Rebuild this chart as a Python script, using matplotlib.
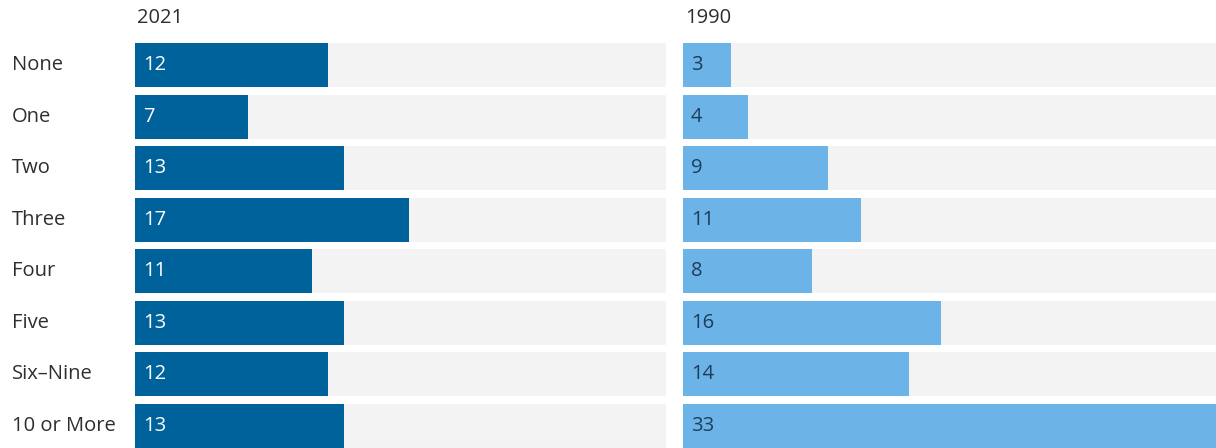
import matplotlib
matplotlib.use("Agg")
import matplotlib.pyplot as plt
import numpy as np

plt.rcParams["font.family"] = ["Open Sans", "DejaVu Sans"]

categories = ["None", "One", "Two", "Three", "Four", "Five", "Six\u2013Nine", "10 or More"]
values_2021 = [12, 7, 13, 17, 11, 13, 12, 13]
values_1990 = [3, 4, 9, 11, 8, 16, 14, 33]
years = ["2021", "1990"]

DARK_BLUE = "#00629b"
LIGHT_BLUE = "#6cb4e8"
TRACK = "#f3f3f3"
TEXT = "#2e2e2e"

W, H = 1216, 448
fig = plt.figure(figsize=(W / 100, H / 100), dpi=100)

bar_h = 0.853
y = np.arange(len(categories))
xmax = 33
ax_bottom = 0.0
ax_height = 405 / H

panels = [
    (135 / W, 531 / W, values_2021, DARK_BLUE, "white", years[0]),
    (683 / W, 533 / W, values_1990, LIGHT_BLUE, "#1f3d5c", years[1]),
]

for left, width, vals, color, txtcolor, year in panels:
    ax = fig.add_axes([left, ax_bottom, width, ax_height])
    ax.barh(y, [xmax] * len(y), height=bar_h, color=TRACK)
    ax.barh(y, vals, height=bar_h, color=color)
    for yi, v in zip(y, vals):
        ax.text(0.5, yi, str(v), va="center", ha="left", fontsize=14.5,
                color=txtcolor)
    ax.set_xlim(0, xmax)
    ax.set_ylim(len(y) - 1 + bar_h / 2, -bar_h / 2)
    ax.axis("off")
    fig.text(left + 2 / W, 1 - 18 / H, year, ha="left", va="center",
             fontsize=14.5, color=TEXT)

# category labels, aligned with row centres
for i, cat in enumerate(categories):
    yc = 43 + bar_h * 51.57 / 2 + i * 51.57
    fig.text(12 / W, 1 - yc / H, cat, ha="left", va="center",
             fontsize=14.5, color=TEXT)

fig.savefig("out.png", dpi=100)
